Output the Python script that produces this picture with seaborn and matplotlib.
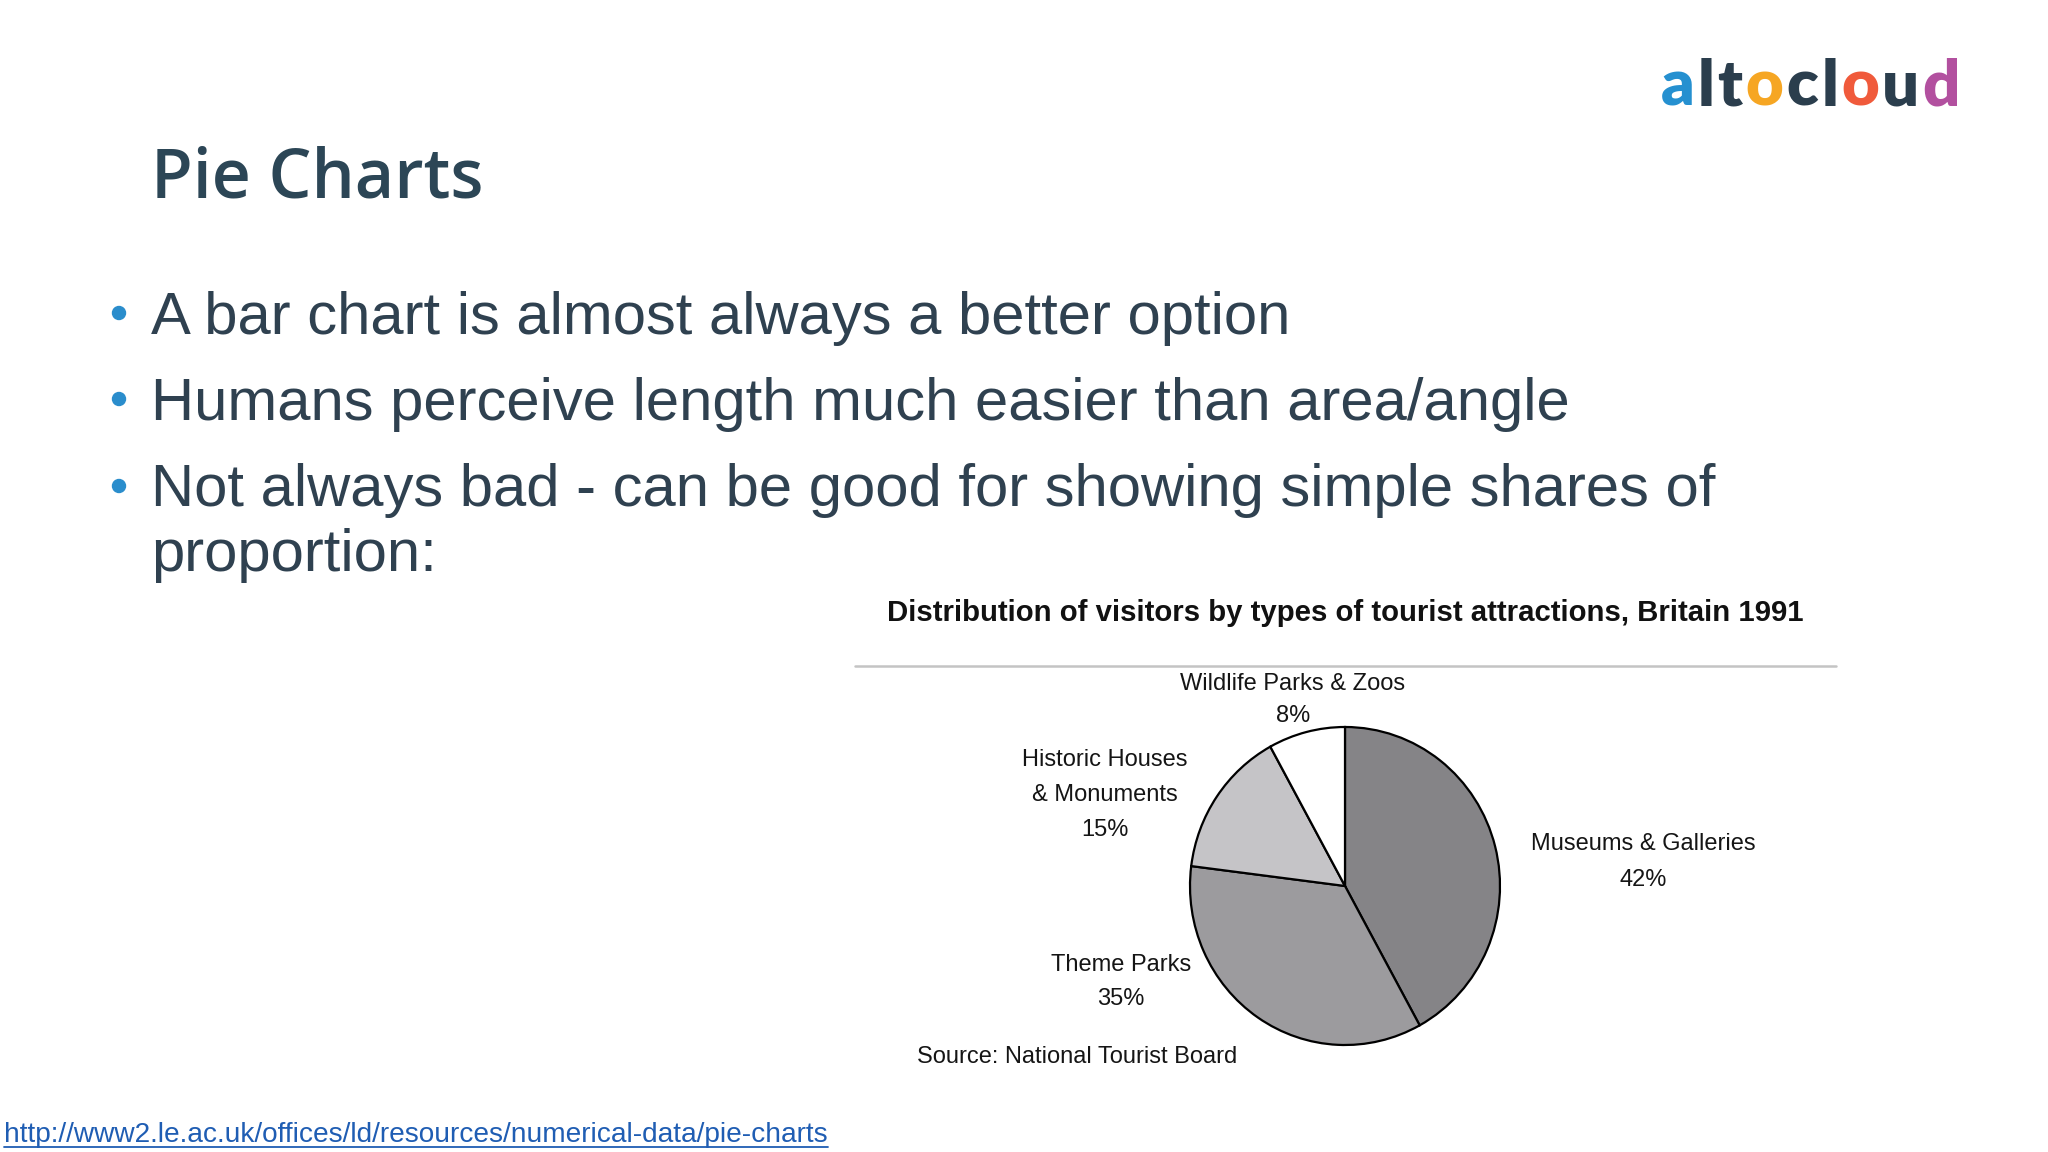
import matplotlib
matplotlib.use("Agg")
import matplotlib.pyplot as plt
import seaborn as sns
from matplotlib import font_manager as fm
from matplotlib.lines import Line2D

# ---------------- data ----------------
slide_title = "Pie Charts"
bullets = [
    ["A bar chart is almost always a better option"],
    ["Humans perceive length much easier than area/angle"],
    ["Not always bad - can be good for showing simple shares of", "proportion:"],
]
chart_title = "Distribution of visitors by types of tourist attractions, Britain 1991"
categories = ["Museums & Galleries", "Theme Parks", "Historic Houses\n& Monuments", "Wildlife Parks & Zoos"]
shares = [42, 35, 15, 8]
slice_colors = ["#858487", "#9c9b9e", "#c5c4c7", "#ffffff"]
source_note = "Source: National Tourist Board"
url = "http://www2.le.ac.uk/offices/ld/resources/numerical-data/pie-charts"
logo_letters = list("altocloud")
logo_colors = ["#2590d0", "#2b3e4d", "#2b3e4d", "#f6a623", "#2b3e4d",
               "#2b3e4d", "#f05a3b", "#2b3e4d", "#b2509f"]

# ---------------- style ----------------
W, H, DPI = 2048, 1152, 100
sns.set_theme(style="white")
names = {f.name for f in fm.fontManager.ttflist}
NARROW = "Liberation Sans Narrow" if "Liberation Sans Narrow" in names else "Liberation Sans"
plt.rcParams["font.family"] = ["Liberation Sans", "DejaVu Sans"]

fig = plt.figure(figsize=(W / DPI, H / DPI), dpi=DPI, facecolor="white")
r = fig.canvas.get_renderer()


def px(x, y):
    return x / W, 1 - y / H


def text(x, y, s, **kw):
    return fig.text(*px(x, y), s, **kw)


def fit_width(t, target):
    w = t.get_window_extent(r).width
    t.set_fontsize(t.get_fontsize() * target / w)


# slide title
text(151, 198, slide_title, fontsize=49, fontfamily=["Open Sans", "DejaVu Sans"],
     fontweight="semibold", color="#2c4656", va="baseline", ha="left")

# bullets
BODY = "#2f4150"
bullet_baselines = [[334], [420], [506, 571]]
bullet_dot_y = [313, 399, 486]
for lines, bases, dy in zip(bullets, bullet_baselines, bullet_dot_y):
    fig.patches.append(matplotlib.patches.Ellipse(px(119, dy), 13 / W, 13 / H,
                                                  transform=fig.transFigure,
                                                  color="#2a8dcc", zorder=3))
    for ln, b in zip(lines, bases):
        text(151, b, ln, fontsize=43, color=BODY, va="baseline", ha="left")

# chart title and rule
ct = text(1345, 621, chart_title, fontsize=26, fontfamily=[NARROW, "DejaVu Sans"],
          fontweight="bold", color="#111111", va="baseline", ha="center")
fit_width(ct, 917)
fig.add_artist(Line2D([855 / W, 1836 / W], [1 - 666 / H] * 2, color="#c4c4c4", lw=1.8,
                      transform=fig.transFigure))

# pie
cx, cy, rx, ry = 1345, 886, 155, 159
pad = 1.03
ax = fig.add_axes([(cx - rx * pad) / W, (H - cy - ry * pad) / H, 2 * rx * pad / W, 2 * ry * pad / H])
ax.pie(shares, colors=sns.color_palette(slice_colors), startangle=90, counterclock=False,
       wedgeprops=dict(edgecolor="black", linewidth=1.6))
ax.set_aspect("auto")
ax.set_xlim(-pad, pad)
ax.set_ylim(-pad, pad)
ax.axis("off")

# slice labels
label_pos = {  # centre x, first baseline, line step
    "Museums & Galleries": (1643, 850, 36),
    "Theme Parks": (1121, 971, 34),
    "Historic Houses\n& Monuments": (1105, 766, 35),
    "Wildlife Parks & Zoos": (1293, 690, 32),
}
for cat, val in zip(categories, shares):
    x0, y0, step = label_pos[cat]
    for i, ln in enumerate(cat.split("\n") + [f"{val}%"]):
        text(x0, y0 + i * step, ln, fontsize=17, color="#151515", ha="center", va="baseline")

text(1077, 1063, source_note, fontsize=17, color="#151515", ha="center", va="baseline")

# url with underline
t = text(4, 1142, url, fontsize=20, fontfamily=[NARROW, "DejaVu Sans"], color="#1f5db3",
         ha="left", va="baseline")
fit_width(t, 821)
bb = t.get_window_extent(r)
fig.add_artist(Line2D([bb.x0 / W, bb.x1 / W], [1 - 1147 / H] * 2, color="#1f5db3", lw=1.3,
                      transform=fig.transFigure))

# logo
x = 1661
for ch, col in zip(logo_letters, logo_colors):
    lt = text(x, 106, ch, fontsize=47, fontfamily=["Lato", "DejaVu Sans"], fontweight="heavy",
              color=col, ha="left", va="baseline")
    e = lt.get_window_extent(r)
    x += e.width + 3

fig.savefig("out.png", dpi=DPI, facecolor="white")
